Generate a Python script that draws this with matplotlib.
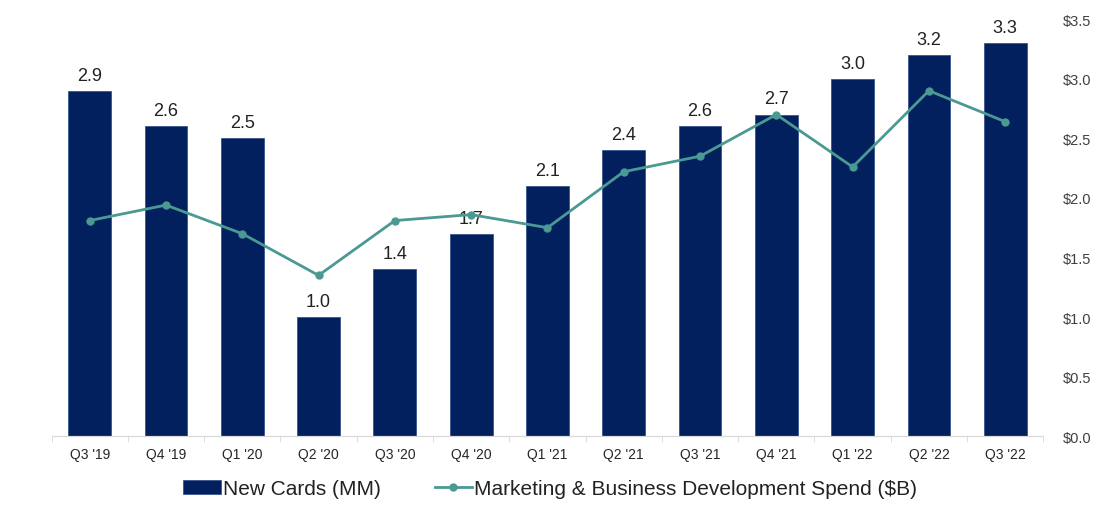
import numpy as np
from matplotlib import pyplot as plt

quarters = ["Q3 '19", "Q4 '19", "Q1 '20", "Q2 '20", "Q3 '20", "Q4 '20", "Q1 '21",
            "Q2 '21", "Q3 '21", "Q4 '21", "Q1 '22", "Q2 '22", "Q3 '22"]
new_cards = [2.9, 2.6, 2.5, 1.0, 1.4, 1.7, 2.1, 2.4, 2.6, 2.7, 3.0, 3.2, 3.3]
marketing_spend = [1.81, 1.94, 1.70, 1.35, 1.81, 1.86, 1.75, 2.22, 2.35, 2.70, 2.26, 2.90, 2.64]
spend_ticks = [0.0, 0.5, 1.0, 1.5, 2.0, 2.5, 3.0, 3.5]

bar_color = "#03205e"
line_color = "#4b9993"

plt.rcParams['font.family'] = ['Liberation Sans', 'DejaVu Sans']

fig = plt.figure(figsize=(10.96, 5.06), dpi=100)
ax = fig.add_axes([0.047, 0.136, 0.905, 0.824])
ax2 = ax.twinx()

x = np.arange(len(quarters))
bars = ax.bar(x, new_cards, width=0.56, color=bar_color, edgecolor="#2a4a8a", linewidth=0.5,
              label="New Cards (MM)", zorder=2)
for xi, v in zip(x, new_cards):
    ax.text(xi, v + 0.06, f"{v:.1f}", ha='center', va='bottom', fontsize=13, color="#222222")

line, = ax2.plot(x, marketing_spend, color=line_color, linewidth=2, marker='o', markersize=5,
                 label="Marketing & Business Development Spend ($B)", zorder=3)

for a in (ax, ax2):
    a.set_ylim(0, 3.5)
    a.set_xlim(-0.5, len(quarters) - 0.5)
    for s in ['top', 'left', 'right']:
        a.spines[s].set_visible(False)
    a.spines['bottom'].set_color("#d9d9d9")

ax.set_yticks([])
ax2.set_yticks(spend_ticks)
ax2.set_yticklabels([f"${t:.1f}" for t in spend_ticks], fontsize=10.5, color="#404040")
ax2.tick_params(axis='y', length=0, pad=14)

ax.set_xticks(x)
ax.set_xticklabels(quarters, fontsize=10, color="#262626")
ax.set_xticks(np.arange(-0.5, len(quarters), 1), minor=True)
ax.tick_params(axis='x', which='major', length=0, pad=8)
ax.tick_params(axis='x', which='minor', length=4, color="#d9d9d9")

fig.legend([bars, line], ["New Cards (MM)", "Marketing & Business Development Spend ($B)"],
           loc='center', bbox_to_anchor=(0.502, 0.032), ncol=2, frameon=False, fontsize=15,
           handlelength=1.8, handletextpad=0.1, columnspacing=2.6, labelcolor="#222222")

fig.savefig("out.png", dpi=100)
